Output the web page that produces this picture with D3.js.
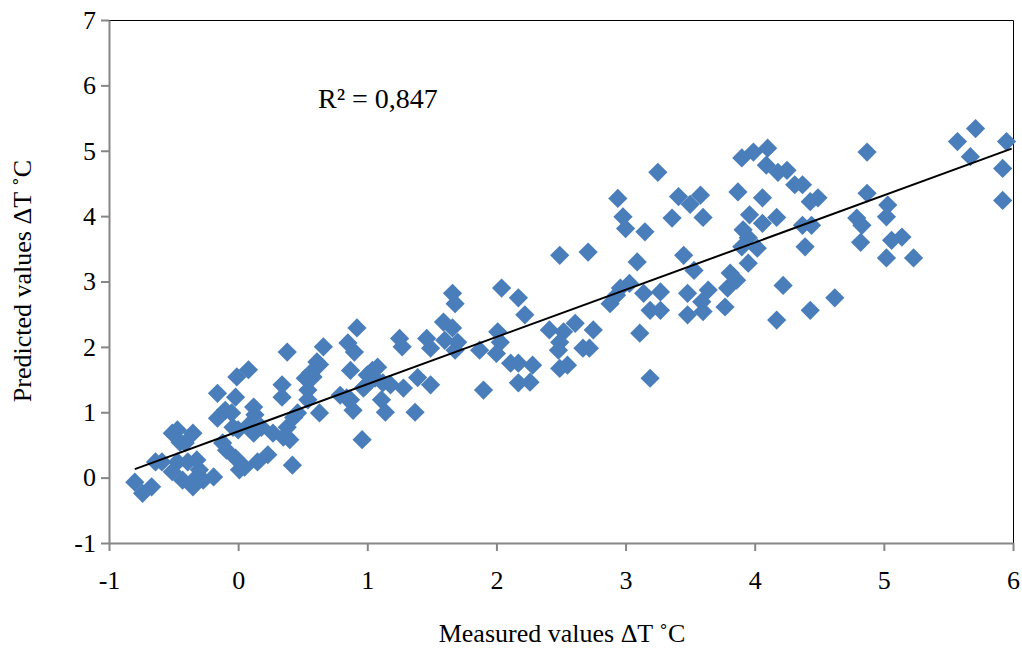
<!DOCTYPE html>
<html>
<head>
<meta charset="utf-8">
<script src="https://cdn.jsdelivr.net/npm/d3@7"></script>
<style>
	body { margin: 0; background: #fff; }
	svg { display: block; }
	text { font-family: "Liberation Serif", "Times New Roman", serif; fill: #000; }
</style>
</head>
<body>
<svg width="1022" height="648"></svg>
<script>
// measured (x) vs predicted (y) delta T
const measured = [
	-0.80, -0.74, -0.67, -0.64, -0.59, -0.51, -0.47, -0.45, -0.41, -0.35,
	-0.51, -0.43, -0.35, -0.32, -0.27, -0.19, -0.47, -0.39, -0.32, -0.30,
	-0.16, -0.16, -0.10, -0.05, -0.02, -0.01, 0.08, -0.04, -0.12, -0.09,
	-0.02, 0.01, 0.15, 0.23, 0.00, 0.08, 0.13, 0.18, 0.12, 0.34,
	0.34, 0.38, 0.42, 0.46, 0.54, 0.58, 0.63, 0.66, 0.54, 0.63,
	0.27, 0.35, 0.38, 0.12, 0.52, 0.56, 0.61, 0.43, 0.40, 0.05,
	0.96, 0.92, 0.85, 0.90, 0.87, 1.04, 0.98, 1.06, 0.79, 0.84,
	0.89, 1.00, 1.08, 0.97, 1.12, 1.18, 1.28, 0.87, 1.11, 1.14,
	1.37, 1.25, 1.27, 1.39, 1.49, 1.46, 1.49, 1.59, 1.66, 1.60,
	1.70, 1.68, 1.66, 1.68, 1.87, 1.90, 2.04, 2.17, 2.22, 2.01,
	2.03, 2.00, 2.11, 2.17, 2.28, 2.17, 2.26, 2.41, 2.52, 2.61,
	2.49, 2.48, 2.55, 2.49, 2.49, 2.71, 2.75, 2.67, 2.72, 3.09,
	3.00, 2.98, 2.94, 2.96, 3.03, 2.88, 2.93, 3.14, 3.11, 3.19,
	3.15, 3.25, 3.19, 3.27, 3.27, 3.41, 3.50, 3.58, 3.60, 3.36,
	3.45, 3.53, 3.48, 3.64, 3.59, 3.48, 3.60, 3.81, 3.86, 3.79,
	3.77, 4.22, 4.17, 3.90, 3.99, 4.10, 4.09, 4.18, 4.25, 3.87,
	4.06, 3.96, 4.17, 4.06, 3.91, 3.95, 4.02, 3.90, 3.95, 4.31,
	4.37, 4.43, 4.49, 4.37, 4.44, 4.39, 4.43, 4.62, 4.87, 4.87,
	5.03, 4.79, 4.83, 4.82, 5.02, 5.06, 5.14, 5.02, 5.23, 5.57,
	5.71, 5.67, 5.95, 5.92, 5.92
];
const predicted = [
	-0.07, -0.24, -0.14, 0.24, 0.24, 0.68, 0.73, 0.54, 0.53, 0.68,
	0.09, -0.04, -0.14, 0.01, -0.04, 0.01, 0.24, 0.24, 0.27, 0.12,
	1.29, 0.91, 1.03, 0.99, 1.23, 1.54, 1.65, 0.77, 0.53, 0.42,
	0.30, 0.12, 0.24, 0.35, 0.73, 0.80, 0.96, 0.77, 0.68, 1.42,
	1.23, 1.92, 0.19, 0.99, 1.19, 1.54, 1.73, 2.00, 1.34, 0.99,
	0.68, 0.62, 0.77, 1.08, 1.52, 1.60, 1.77, 0.92, 0.58, 0.16,
	0.58, 2.29, 2.06, 1.92, 1.64, 1.64, 1.39, 1.52, 1.26, 1.22,
	1.03, 1.57, 1.69, 1.37, 1.45, 1.42, 1.37, 1.19, 1.19, 1.00,
	1.00, 2.13, 2.00, 1.53, 1.42, 2.13, 1.98, 2.38, 2.29, 2.10,
	2.07, 1.95, 2.82, 2.66, 1.95, 1.34, 2.90, 2.75, 2.49, 2.23,
	2.07, 1.90, 1.75, 1.75, 1.72, 1.45, 1.46, 2.26, 2.23, 2.36,
	2.07, 1.95, 1.72, 1.67, 3.40, 3.45, 2.26, 1.98, 1.98, 3.30,
	3.81, 3.99, 4.27, 2.90, 2.97, 2.66, 2.79, 2.82, 2.21, 1.52,
	3.76, 4.67, 2.56, 2.56, 2.84, 4.30, 4.18, 4.32, 3.98, 3.97,
	3.40, 3.17, 2.82, 2.87, 2.69, 2.49, 2.54, 3.13, 3.02, 2.90,
	2.61, 2.94, 2.41, 4.89, 4.98, 5.04, 4.78, 4.67, 4.70, 4.37,
	4.28, 4.02, 3.98, 3.89, 3.79, 3.67, 3.51, 3.53, 3.28, 4.48,
	4.48, 4.22, 4.28, 3.86, 3.86, 3.53, 2.56, 2.75, 4.98, 4.35,
	4.17, 3.97, 3.86, 3.60, 3.99, 3.63, 3.68, 3.36, 3.36, 5.14,
	5.34, 4.91, 5.14, 4.73, 4.24
];
const xTicks = [-1, 0, 1, 2, 3, 4, 5, 6];
const yTicks = [-1, 0, 1, 2, 3, 4, 5, 6, 7];
// linear trend line as shown in the chart
const trendSlope = 0.722;
const trendIntercept = 0.707;
const rSquaredLabel = "R² = 0,847";
const xTitle = "Measured values ΔT ˚C";
const yTitle = "Predicted values ΔT ˚C";

const svg = d3.select("svg");
const plot = { left: 109, right: 1013, top: 20, bottom: 543 };
const axisColour = "#868686";
const markerColour = "#4a7ebb";
const serif = "'Liberation Serif', 'Times New Roman', serif";
const fontSize = "26px";

const xScale = d3.scaleLinear().domain([-1, 6]).range([plot.left, plot.right]);
const yScale = d3.scaleLinear().domain([-1, 7]).range([plot.bottom, plot.top]);

const points = measured.map((x, i) => ({ x: x, y: predicted[i] }));

// top and right frame lines
svg.append("path")
	.attr("fill", "none")
	.attr("stroke", "#000")
	.attr("stroke-width", 1)
	.attr("d", `M${plot.left},${plot.top + 0.5}H${plot.right + 0.5}V${plot.bottom}`);

// markers
svg.append("g")
	.selectAll("path")
	.data(points)
	.join("path")
	.attr("d", d3.symbol().type(d3.symbolSquare).size(185))
	.attr("fill", markerColour)
	.attr("transform", (d) => "translate(" + xScale(d.x) + "," + yScale(d.y) + ") rotate(45)");

// trend line over the measured range
const xExtent = d3.extent(measured);
svg.append("line")
	.attr("x1", xScale(xExtent[0]))
	.attr("y1", yScale(trendIntercept + trendSlope * xExtent[0]))
	.attr("x2", xScale(xExtent[1] + 0.04))
	.attr("y2", yScale(trendIntercept + trendSlope * (xExtent[1] + 0.04)))
	.attr("stroke", "#000")
	.attr("stroke-width", 2);

// axes, labels written with a plain hyphen like the original
const plain = (d) => String(d);
const xAxis = svg.append("g")
	.attr("transform", "translate(0," + plot.bottom + ")")
	.call(d3.axisBottom(xScale).tickValues(xTicks).tickFormat(plain).tickSize(8).tickSizeOuter(0).tickPadding(20));
const yAxis = svg.append("g")
	.attr("transform", "translate(" + plot.left + ",0)")
	.call(d3.axisLeft(yScale).tickValues(yTicks).tickFormat(plain).tickSize(8).tickSizeOuter(0).tickPadding(5));

[xAxis, yAxis].forEach((g) => {
	g.select(".domain").attr("stroke", axisColour).attr("stroke-width", 2);
	g.selectAll(".tick line").attr("stroke", axisColour).attr("stroke-width", 2);
	g.selectAll(".tick text")
		.style("font-family", serif)
		.style("font-size", fontSize)
		.attr("fill", "#000");
});

svg.append("text")
	.attr("x", 318)
	.attr("y", 108)
	.style("font-size", "28px")
	.text(rSquaredLabel);

svg.append("text")
	.attr("x", 562)
	.attr("y", 642)
	.attr("text-anchor", "middle")
	.style("font-size", fontSize)
	.text(xTitle);

svg.append("text")
	.attr("transform", "translate(31," + 281 + ") rotate(-90)")
	.attr("text-anchor", "middle")
	.style("font-size", fontSize)
	.text(yTitle);
</script>
</body>
</html>
